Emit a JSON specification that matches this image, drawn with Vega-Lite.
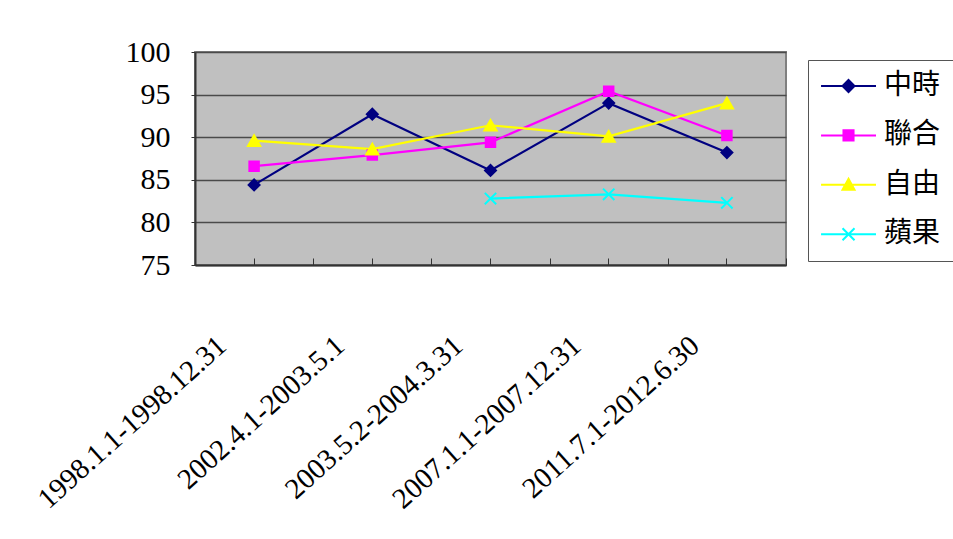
{
  "$schema": "https://vega.github.io/schema/vega-lite/v6.json",
  "width": 591,
  "height": 213,
  "autosize": {"type": "none"},
  "padding": {"left": 195, "top": 52, "right": 167, "bottom": 274},
  "background": "white",
  "data": {
    "values": [
      {"period": "1998.1.1-1998.12.31", "paper": "中時", "score": 84.4},
      {"period": "2002.4.1-2003.5.1", "paper": "中時", "score": 92.7},
      {"period": "2003.5.2-2004.3.31", "paper": "中時", "score": 86.1},
      {"period": "2007.1.1-2007.12.31", "paper": "中時", "score": 94.0},
      {"period": "2011.7.1-2012.6.30", "paper": "中時", "score": 88.2},
      {"period": "1998.1.1-1998.12.31", "paper": "聯合", "score": 86.6},
      {"period": "2002.4.1-2003.5.1", "paper": "聯合", "score": 87.9},
      {"period": "2003.5.2-2004.3.31", "paper": "聯合", "score": 89.4},
      {"period": "2007.1.1-2007.12.31", "paper": "聯合", "score": 95.4},
      {"period": "2011.7.1-2012.6.30", "paper": "聯合", "score": 90.2},
      {"period": "1998.1.1-1998.12.31", "paper": "自由", "score": 89.6},
      {"period": "2002.4.1-2003.5.1", "paper": "自由", "score": 88.6},
      {"period": "2003.5.2-2004.3.31", "paper": "自由", "score": 91.4},
      {"period": "2007.1.1-2007.12.31", "paper": "自由", "score": 90.1},
      {"period": "2011.7.1-2012.6.30", "paper": "自由", "score": 94.0},
      {"period": "2003.5.2-2004.3.31", "paper": "蘋果", "score": 82.8},
      {"period": "2007.1.1-2007.12.31", "paper": "蘋果", "score": 83.3},
      {"period": "2011.7.1-2012.6.30", "paper": "蘋果", "score": 82.3}
    ]
  },
  "config": {
    "view": {"fill": "#C0C0C0", "stroke": "#808080", "strokeWidth": 2},
    "axis": {"labelFont": "Liberation Serif", "labelColor": "black"}
  },
  "encoding": {
    "x": {
      "field": "period",
      "type": "ordinal",
      "scale": {"type": "band", "paddingInner": 0, "paddingOuter": 0},
      "axis": null
    },
    "y": {
      "field": "score",
      "type": "quantitative",
      "scale": {"domain": [75, 100], "nice": false, "zero": false},
      "axis": {
        "values": [75, 80, 85, 90, 95, 100],
        "title": null,
        "grid": true,
        "gridColor": "#4a4a4a",
        "gridWidth": 1.5,
        "domainColor": "#333333",
        "domainWidth": 2,
        "tickColor": "#333333",
        "tickSize": 4,
        "labelFontSize": 30,
        "labelPadding": 21
      }
    }
  },
  "layer": [
    {
      "transform": [{"filter": "datum.paper === '中時'"}],
      "mark": {"type": "line", "strokeWidth": 2.2, "color": "#000080"},
      "encoding": {
        "x": {
          "field": "period",
          "type": "ordinal",
          "scale": {"type": "band", "paddingInner": 0, "paddingOuter": 0},
          "axis": {
            "title": null,
            "orient": "bottom",
            "domainColor": "#333333",
            "domainWidth": 2,
            "tickColor": "#333333",
            "tickSize": -7,
            "labelAngle": -42,
            "labelAlign": "right",
            "labelBaseline": "middle",
            "labelFontSize": 29,
            "labelOffset": -32,
            "labelPadding": 83,
            "labelLimit": 500,
            "labelOverlap": false,
            "labelFlush": false,
            "labelBound": false
          }
        }
      }
    },
    {
      "transform": [{"filter": "datum.paper === '聯合'"}],
      "mark": {"type": "line", "strokeWidth": 2.2, "color": "#FF00FF"},
      "encoding": {}
    },
    {
      "transform": [{"filter": "datum.paper === '自由'"}],
      "mark": {"type": "line", "strokeWidth": 2.2, "color": "#FFFF00"},
      "encoding": {}
    },
    {
      "transform": [{"filter": "datum.paper === '蘋果'"}],
      "mark": {"type": "line", "strokeWidth": 2.2, "color": "#00FFFF"},
      "encoding": {}
    },
    {
      "transform": [{"filter": "datum.paper === '中時'"}],
      "mark": {"type": "point", "shape": "diamond", "filled": true, "size": 120, "strokeWidth": 2, "opacity": 1},
      "encoding": {
        "x": {
          "field": "period",
          "type": "ordinal",
          "scale": {"type": "band", "paddingInner": 0, "paddingOuter": 0},
          "axis": {
            "title": null,
            "orient": "bottom",
            "domain": false,
            "labels": false,
            "tickBand": "extent",
            "tickColor": "#333333",
            "tickSize": -7
          }
        },
        "color": {
          "field": "paper",
          "type": "nominal",
          "scale": {"domain": ["中時", "聯合", "自由", "蘋果"], "range": ["#000080", "#FF00FF", "#FFFF00", "#00FFFF"]},
          "legend": {
            "title": null,
            "orient": "none",
            "legendX": 613,
            "legendY": 8,
            "padding": 12,
            "fillColor": "white",
            "strokeColor": "#555555",
            "labelFont": "Noto Sans CJK TC",
            "labelFontSize": 28,
            "labelColor": "black",
            "labelOffset": 36,
            "rowPadding": 21.4,
            "symbolSize": 576,
            "symbolStrokeWidth": 2,
            "symbolType": {"expr": "datum.value === '中時' ? 'M-1.08,0H3.5M1.21,-0.5L1.71,0L1.21,0.5L0.71,0Z' : datum.value === '聯合' ? 'M-1.08,0H3.5M0.79,-0.42H1.63V0.42H0.79Z' : datum.value === '自由' ? 'M-1.08,0H3.5M1.21,-0.5L1.71,0.42H0.71Z' : 'M-1.08,0H3.5M0.71,-0.5L1.71,0.5M0.71,0.5L1.71,-0.5'"}
          }
        },
        "stroke": {
          "field": "paper",
          "type": "nominal",
          "scale": {"domain": ["中時", "聯合", "自由", "蘋果"], "range": ["#000080", "#FF00FF", "#FFFF00", "#00FFFF"]},
          "legend": {
            "title": null,
            "orient": "none",
            "legendX": 613,
            "legendY": 8,
            "padding": 12,
            "fillColor": "white",
            "strokeColor": "#555555",
            "labelFont": "Noto Sans CJK TC",
            "labelFontSize": 28,
            "labelColor": "black",
            "labelOffset": 36,
            "rowPadding": 21.4,
            "symbolSize": 576,
            "symbolStrokeWidth": 2,
            "symbolType": {"expr": "datum.value === '中時' ? 'M-1.08,0H3.5M1.21,-0.5L1.71,0L1.21,0.5L0.71,0Z' : datum.value === '聯合' ? 'M-1.08,0H3.5M0.79,-0.42H1.63V0.42H0.79Z' : datum.value === '自由' ? 'M-1.08,0H3.5M1.21,-0.5L1.71,0.42H0.71Z' : 'M-1.08,0H3.5M0.71,-0.5L1.71,0.5M0.71,0.5L1.71,-0.5'"}
          }
        }
      }
    },
    {
      "transform": [{"filter": "datum.paper === '聯合'"}],
      "mark": {"type": "point", "shape": "square", "filled": true, "size": 90, "strokeWidth": 2, "opacity": 1, "color": "#FF00FF", "stroke": "#FF00FF"},
      "encoding": {}
    },
    {
      "transform": [{"filter": "datum.paper === '自由'"}],
      "mark": {"type": "point", "shape": "triangle-up", "filled": true, "size": 150, "strokeWidth": 2, "opacity": 1, "color": "#FFFF00", "stroke": "#FFFF00"},
      "encoding": {}
    },
    {
      "transform": [{"filter": "datum.paper === '蘋果'"}],
      "mark": {"type": "point", "shape": "M-1,-1L1,1M-1,1L1,-1", "filled": true, "size": 130, "strokeWidth": 2, "opacity": 1, "color": "#00FFFF", "stroke": "#00FFFF"},
      "encoding": {}
    }
  ],
  "resolve": {"axis": {"x": "independent"}}
}
